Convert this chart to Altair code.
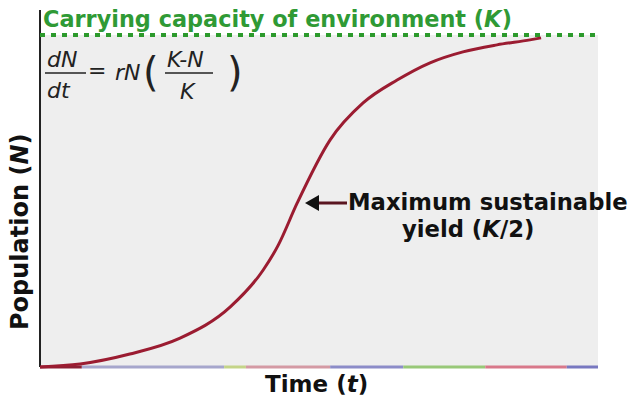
import altair as alt
import pandas as pd

# ---- data (time in arbitrary units, population as fraction of K) ----
time = [0, 0.72, 1.61, 2.51, 3.41, 4.0, 4.27, 4.61, 5.2, 5.79, 6.4, 6.99, 7.58, 8.19, 8.78, 8.98]
population = [0, 0.009, 0.039, 0.087, 0.181, 0.292, 0.367, 0.494, 0.684, 0.795, 0.864, 0.916, 0.949, 0.970, 0.985, 0.991]
K = 1.0
T_MAX = 10
Y_TOP = 1.075

# coloured segments of the time axis line
seg_names = ["s1", "s2", "s3", "s4", "s5", "s6", "s7", "s8"]
seg_start = [0, 0.75, 3.3, 3.69, 5.2, 6.51, 7.98, 9.44]
seg_end = [0.75, 3.3, 3.69, 5.2, 6.51, 7.98, 9.44, 10.0]
seg_colors = ["#8b2035", "#a6a6cc", "#c4d488", "#d49aa4", "#8c8cc8", "#98c878", "#d8788a", "#7878c0"]

xs = alt.Scale(domain=[0, T_MAX], nice=False, zero=False)
ys = alt.Scale(domain=[0, Y_TOP], nice=False, zero=False)


def px2t(px):
    return (px - 40) / 55.8


def py2p(py):
    return (367 - py) / 332


def X(f="t"):
    return alt.X(f"{f}:Q", scale=xs, axis=None)


def Y(f="p"):
    return alt.Y(f"{f}:Q", scale=ys, axis=None)


def label(text, px, py, size, italic=False, bold=True, color="#111111", angle=0):
    df = pd.DataFrame({"t": [px2t(px)], "p": [py2p(py)], "label": [text]})
    return alt.Chart(df).mark_text(
        align="left", baseline="alphabetic", font="DejaVu Sans", fontSize=size,
        fontWeight="bold" if bold else "normal",
        fontStyle="italic" if italic else "normal",
        color=color, angle=angle,
    ).encode(x=X(), y=Y(), text="label:N")


def hbar(px1, px2, py, color="#222222", width=1.5):
    df = pd.DataFrame({"t": [px2t(px1)], "t2": [px2t(px2)], "p": [py2p(py)]})
    return alt.Chart(df).mark_rule(color=color, strokeWidth=width).encode(
        x=X(), x2="t2:Q", y=Y())


curve_df = pd.DataFrame({"t": time, "p": population})
bg_df = pd.DataFrame({"t": [0], "t2": [T_MAX], "p": [0], "p2": [K]})
k_df = pd.DataFrame({"t": [0], "t2": [T_MAX], "p": [K]})
yaxis_df = pd.DataFrame({"t": [0], "p": [0], "p2": [Y_TOP]})
seg_df = pd.DataFrame({"seg": seg_names, "t": seg_start, "t2": seg_end, "p": [0] * len(seg_names)})

background = alt.Chart(bg_df).mark_rect(color="#eeeeee").encode(
    x=X(), x2="t2:Q", y=Y(), y2="p2:Q")

xaxis = alt.Chart(seg_df).mark_rule(strokeWidth=3).encode(
    x=X(), x2="t2:Q", y=Y(),
    color=alt.Color("seg:N", scale=alt.Scale(domain=seg_names, range=seg_colors), legend=None))

yaxis = alt.Chart(yaxis_df).mark_rule(color="#222222", strokeWidth=2).encode(
    x=X(), y=Y(), y2="p2:Q")

kline = alt.Chart(k_df).mark_rule(color="#2c9a2c", strokeWidth=4, strokeDash=[5, 6]).encode(
    x=X(), x2="t2:Q", y=Y())

curve = alt.Chart(curve_df).mark_line(color="#9b1c31", strokeWidth=3, interpolate="monotone").encode(
    x=X(), y=Y())

# arrow pointing at the inflection point (K/2)
arrow_line = hbar(312, 347, 203, color="#5a1520", width=3)
arrow_head = alt.Chart(pd.DataFrame({"t": [px2t(312)], "p": [py2p(203)]})).mark_point(
    shape="triangle-left", filled=True, color="#111111", size=260, opacity=1).encode(x=X(), y=Y())

texts = [
    # title of the K line
    label("Carrying capacity of environment (", 43, 27, 22.4, color="#2f9a35"),
    label("K", 484, 27, 22.4, italic=True, color="#2f9a35"),
    label(")", 501.7, 27, 22.4, color="#2f9a35"),
    # logistic equation
    label("dN", 47, 67, 22, italic=True, bold=False, color="#222222"),
    label("dt", 47, 98, 22, italic=True, bold=False, color="#222222"),
    label("=", 88, 78, 22, bold=False, color="#222222"),
    label("rN", 115, 80, 22, italic=True, bold=False, color="#222222"),
    label("(", 143, 86, 40, bold=False, color="#222222"),
    label("K-N", 167, 67, 22, italic=True, bold=False, color="#222222"),
    label("K", 180, 99, 22, italic=True, bold=False, color="#222222"),
    label(")", 227, 86, 40, bold=False, color="#222222"),
    hbar(45, 86, 73),
    hbar(165, 213, 73),
    # annotation
    label("Maximum sustainable", 348, 210, 22.7),
    label("yield (", 402, 237, 22.7),
    label("K", 482.3, 237, 22.7, italic=True),
    label("/2)", 499.9, 237, 22.7),
    # axis titles
    label("Time (", 265, 392, 23),
    label("t", 346.7, 392, 23, italic=True),
    label(")", 357.7, 392, 23),
    label("Population (", 28, 330, 24, angle=270),
    label("N", 28, 164.6, 24, italic=True, angle=270),
    label(")", 28, 144.5, 24, angle=270),
]

chart = alt.layer(
    background, xaxis, yaxis, kline, curve, arrow_line, arrow_head, *texts
).properties(
    width=558, height=357,
    autosize=alt.AutoSizeParams(type="none"),
    padding={"left": 32, "top": 2, "right": 34, "bottom": 30},
    background="white",
).configure_view(stroke=None)

chart.save("out.html", embed_options={"renderer": "svg", "actions": False})
